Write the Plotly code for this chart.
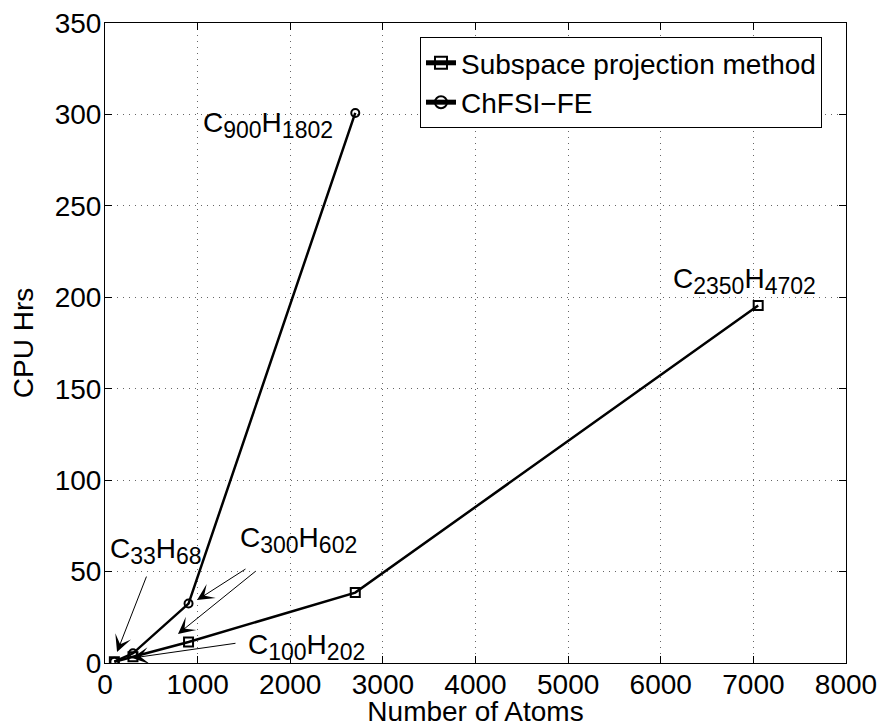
import plotly.graph_objects as go

# Data
atoms_subspace = [101, 302, 902, 2702, 7052]
cpu_subspace = [0.7, 3.4, 11.5, 38.5, 195.5]
atoms_chfsi = [101, 302, 902, 2702]
cpu_chfsi = [0.7, 5.3, 32.5, 300.8]

series_names = ["Subspace projection method", "ChFSI\u2212FE"]

x_ticks = [0, 1000, 2000, 3000, 4000, 5000, 6000, 7000, 8000]
y_ticks = [0, 50, 100, 150, 200, 250, 300, 350]

FONT = "Liberation Sans, Arial, Helvetica, sans-serif"
FS = 28
SUBFS = 23


def formula(c, h):
    return (f"C<sub><span style='font-size:{SUBFS}px'>{c}</span></sub>"
            f"H<sub><span style='font-size:{SUBFS}px'>{h}</span></sub>")


# label texts and positions (data coords)
labels = [
    (formula(33, 68), 555, 61),
    (formula(300, 602), 2085, 67),
    (formula(100, 202), 2170, 9),
    (formula(900, 1802), 1760, 294),
    (formula(2350, 4702), 6900, 209),
]

# arrows: (tail_x, tail_y, tip_x, tip_y)
arrows = [
    (454, 48.1, 130, 6.0),
    (1425, 10.9, 292, 2.7),
    (1533, 51.9, 994, 34.4),
    (1641, 50.8, 788, 15.9),
]

fig = go.Figure()
fig.add_trace(go.Scatter(
    x=atoms_subspace, y=cpu_subspace, mode="lines+markers", name=series_names[0],
    line=dict(color="black", width=2.5),
    marker=dict(symbol="square-open", size=9, color="black", line=dict(width=2, color="black")),
))
fig.add_trace(go.Scatter(
    x=atoms_chfsi, y=cpu_chfsi, mode="lines+markers", name=series_names[1],
    line=dict(color="black", width=2.5),
    marker=dict(symbol="circle-open", size=8, color="black", line=dict(width=2, color="black")),
))

annotations = []
for txt, x, y in labels:
    annotations.append(dict(x=x, y=y, xref="x", yref="y", text=txt, showarrow=False,
                            font=dict(family=FONT, size=FS, color="black"),
                            xanchor="center", yanchor="middle"))
for tx, ty, hx, hy in arrows:
    annotations.append(dict(x=hx, y=hy, ax=tx, ay=ty, xref="x", yref="y", axref="x", ayref="y",
                            text="", showarrow=True, arrowhead=3, arrowsize=2.8, arrowwidth=1,
                            arrowcolor="black", standoff=0, startstandoff=0))

axis_common = dict(
    showline=True, linecolor="black", linewidth=1, mirror="ticks",
    ticks="inside", ticklen=7, tickcolor="black", tickwidth=1,
    showgrid=True, gridcolor="#666666", gridwidth=1, griddash="1px,5px",
    zeroline=False, tickfont=dict(family=FONT, size=FS, color="black"),
    automargin=False,
)

fig.update_layout(
    width=880, height=727,
    margin=dict(l=105, r=34, t=23, b=64),
    paper_bgcolor="white", plot_bgcolor="white",
    font=dict(family=FONT, size=FS, color="black"),
    xaxis=dict(range=[0, 8000], tickvals=x_ticks, ticktext=[str(v) for v in x_ticks],
               ticklabelstandoff=-4,
               title=dict(text="Number of Atoms", font=dict(family=FONT, size=FS), standoff=0),
               **axis_common),
    yaxis=dict(range=[0, 350], tickvals=y_ticks, ticktext=[str(v) for v in y_ticks],
               ticklabelstandoff=-3,
               title=dict(text="CPU Hrs", font=dict(family=FONT, size=FS), standoff=12),
               **axis_common),
    legend=dict(x=0.9676, y=0.978, xanchor="right", yanchor="top",
                bgcolor="white", bordercolor="black", borderwidth=1,
                font=dict(family=FONT, size=FS, color="black"),
                tracegroupgap=0, itemsizing="constant"),
    showlegend=True,
    annotations=annotations,
)

fig.write_html("out.html")
